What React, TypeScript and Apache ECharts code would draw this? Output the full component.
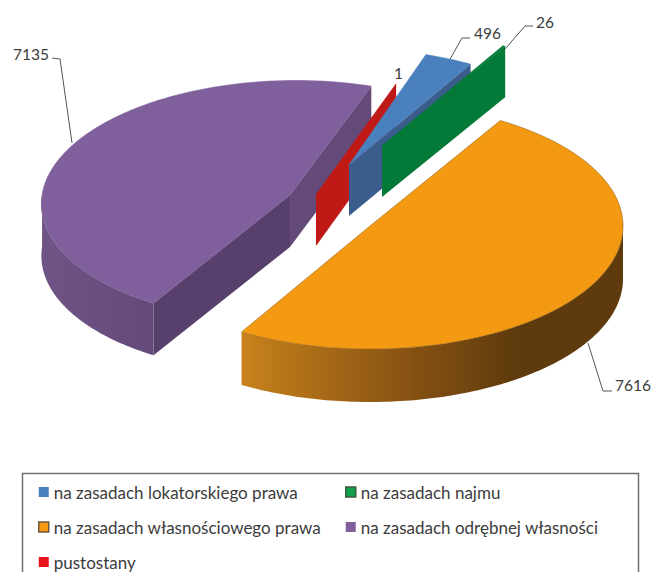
import React, { useEffect, useRef } from "react";
import * as echarts from "echarts";

const categories = [
  "na zasadach lokatorskiego prawa",
  "na zasadach najmu",
  "na zasadach własnościowego prawa",
  "na zasadach odrębnej własności",
  "pustostany",
];
const values = [496, 26, 7616, 7135, 1];
const firstSliceDeg = 18.7;

// Top, radial-face and rim shades for each slice.
const topColors = ["#4a80bd", "#047a38", "#f49a12", "#7f609c", "#c01a17"];
const legendColors = ["#4a80bd", "#12a04a", "#f49a12", "#7f609c", "#e8141c"];
const legendOutlines = [null, "#3c5a3c", "#6e5a3c", null, null];
const faceColors = ["#3a5d8c", "#047a38", "#8d5614", "#58406c", "#c01a17"];
const endFaceColors = ["#3a5d8c", "#047a38", "#8d5614", "#644a78", "#c01a17"];
const rimStops = [
  [[0, "#3a5d8c"]],
  [[0, "#047a38"]],
  [[0, "#c8821c"], [0.4, "#8d5614"], [0.72, "#5e3a0c"], [1, "#5e3a0c"]],
  [[0, "#6f5486"], [1, "#644a78"]],
  [[0, "#c01a17"]],
];

// Pie geometry: apex of each exploded slice, tilted-ellipse radii, wall depth.
const apexes = [
  [349, 165],
  [382, 146],
  [370, 226],
  [290, 195],
  [316, 195],
];
const RX = 253;
const RY = 123;
const depths = [51, 51, 53, 52, 51];
const radiusScale = [0.975, 0.97, 1, 0.98, 1];
const perspective = [0.03, 0.03, 0, 0.05, 0.05];
const shear = [0, 0, 0, -6, -3];

// Back-to-front paint order of the slices.
const paintOrder = [3, 4, 0, 1, 2];

const total = values.reduce((s, v) => s + v, 0);
const sliceAngles = values.map((_, i) => {
  const before = values.slice(0, i).reduce((s, v) => s + v, 0);
  return [
    firstSliceDeg + (before / total) * 360,
    firstSliceDeg + ((before + values[i]) / total) * 360,
  ];
});

const project = (i: number, deg: number, drop = 0): number[] => {
  const t = (deg * Math.PI) / 180;
  const u = Math.sin(t);
  const v = -Math.cos(t);
  const p = (1 + perspective[i] * v) * radiusScale[i];
  return [
    apexes[i][0] + RX * u * p + shear[i] * v,
    apexes[i][1] + RY * v * p + drop,
  ];
};

const sampleArc = (from: number, to: number): number[] => {
  const out: number[] = [from];
  for (let d = Math.ceil(from + 0.001); d < to; d += 1) out.push(d);
  out.push(to);
  return out;
};

const renderSlice = (i: number) => () => {
  const [a0, a1] = sliceAngles[i];
  const apex = apexes[i];
  const depth = depths[i];
  const children: any[] = [];
  const poly = (points: number[][], fill: any, extra: any = {}) => ({
    type: "polygon",
    shape: { points },
    style: { fill, ...extra },
  });
  const radialFace = (deg: number, fill: string) => {
    const rim = project(i, deg);
    return poly(
      [apex, rim, [rim[0], rim[1] + depth], [apex[0], apex[1] + depth]],
      fill
    );
  };

  // The face at the start of the sweep is only seen when it turns toward the viewer.
  if (Math.sin((a0 * Math.PI) / 180) < 0) {
    children.push(radialFace(a0, faceColors[i]));
  }

  // Outer wall, only for the front half of the ellipse; shaded left to right.
  const lo = Math.max(a0, 90);
  const hi = Math.min(a1, 270);
  if (lo < hi) {
    const degs = sampleArc(lo, hi);
    const upper = degs.map((d) => project(i, d));
    const lower = degs.map((d) => project(i, d, depth)).reverse();
    const stops = rimStops[i].map(([offset, color]) => ({ offset, color }));
    children.push(
      poly(upper.concat(lower), new echarts.graphic.LinearGradient(0, 0, 1, 0, stops as any))
    );
  }

  if (Math.sin((a1 * Math.PI) / 180) > 0) {
    children.push(radialFace(a1, endFaceColors[i]));
  }

  const top = sampleArc(a0, a1).map((d) => project(i, d));
  children.push(
    poly([apex, ...top], topColors[i], {
      stroke: i === 2 ? "#9a6512" : topColors[i],
      lineWidth: 0.6,
      lineJoin: "round",
    })
  );
  return { type: "group", children };
};

// Value callouts: elbow leader and the number it points to.
const leaderLines = [
  [[470, 38], [462, 38], [449, 61]],
  [[533, 26], [525, 26], [505, 49]],
  [[588, 343], [603, 391], [612, 391]],
  [[52, 58], [60, 59], [72, 143]],
];
const labelAnchors = [
  [474, 33],
  [536, 22],
  [615, 385],
  [13, 54],
  [394, 73],
];

const LABEL_FONT = "Lato";

const legendBase = {
  top: 483,
  orient: "vertical",
  selectedMode: false,
  icon: "rect",
  itemWidth: 10,
  itemHeight: 10,
  itemGap: 17,
  padding: 0,
  textStyle: {
    fontFamily: LABEL_FONT,
    fontSize: 17,
    color: "#3c3c3c",
    height: 18,
    lineHeight: 18,
  },
};

const legendEntry = (i: number) => ({
  name: categories[i],
  itemStyle: legendOutlines[i]
    ? { color: legendColors[i], borderColor: legendOutlines[i], borderWidth: 1.5 }
    : { color: legendColors[i] },
});

export default function App() {
  const ref = useRef<HTMLDivElement>(null);
  useEffect(() => {
    document.body.style.margin = "0";
    const chart = echarts.init(ref.current!, undefined, { renderer: "svg" });
    chart.setOption({
      animation: false,
      backgroundColor: "#ffffff",
      legend: [
        { ...legendBase, left: 38, data: [0, 2, 4].map(legendEntry) },
        { ...legendBase, left: 345, data: [1, 3].map(legendEntry) },
      ],
      series: paintOrder.map((i) => ({
        type: "custom",
        name: categories[i],
        coordinateSystem: "none",
        silent: true,
        itemStyle: { color: legendColors[i] },
        data: [[values[i]]],
        renderItem: renderSlice(i),
      })),
      graphic: [
        {
          type: "rect",
          silent: true,
          shape: { x: 22.5, y: 473.5, width: 616, height: 120 },
          style: { fill: "none", stroke: "#6f6f6f", lineWidth: 1.5 },
        },
        ...leaderLines.map((points) => ({
          type: "polyline",
          silent: true,
          shape: { points },
          style: { fill: "none", stroke: "#555555", lineWidth: 1 },
        })),
        ...values.map((v, i) => ({
          type: "text",
          silent: true,
          x: labelAnchors[i][0],
          y: labelAnchors[i][1],
          style: {
            text: String(v),
            fill: "#3c3c3c",
            font: `15.5px "${LABEL_FONT}"`,
            textVerticalAlign: "middle",
            textAlign: "left",
          },
        })),
      ],
    });
    return () => chart.dispose();
  }, []);
  return <div ref={ref} style={{ width: 652, height: 572 }} />;
}
